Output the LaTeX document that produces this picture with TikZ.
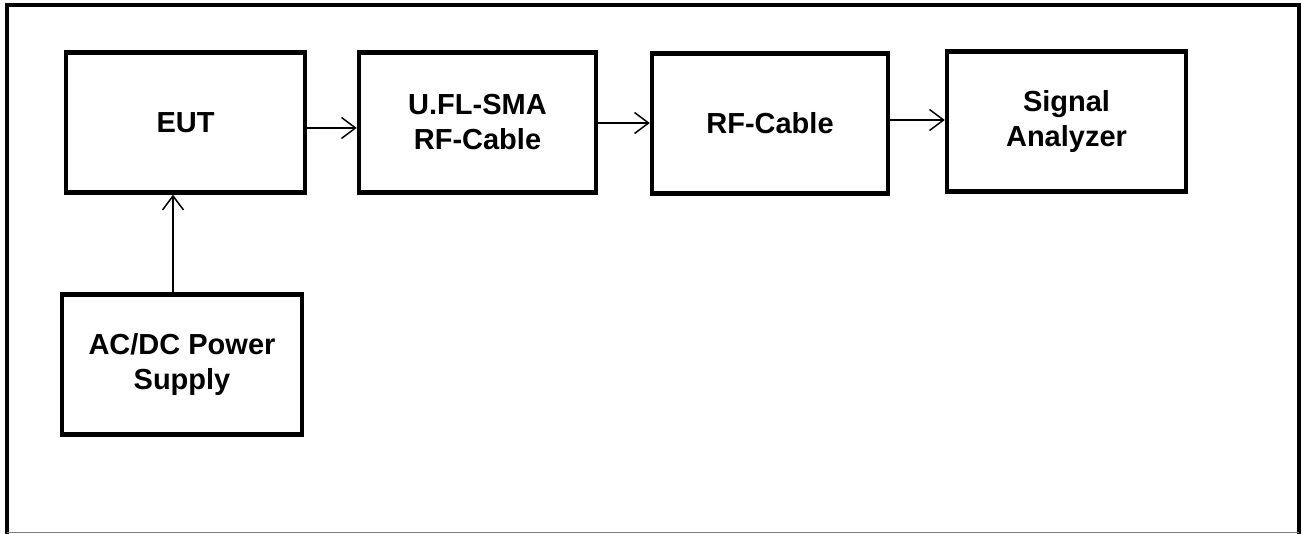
\documentclass[tikz,border=0pt]{standalone}
\usepackage{fontspec}
\setmainfont{Liberation Sans}
\usetikzlibrary{arrows.meta}
\begin{document}
\begin{tikzpicture}[x=1pt,y=-1pt,
  blk/.style={draw=black,line width=4.5pt,rectangle,minimum width=#1,minimum height=140pt,inner sep=0pt,align=center,font=\fontsize{29}{35}\selectfont\bfseries},
  blk/.default=240pt,
  conn/.style={line width=1.5pt,-{Straight Barb[length=14pt,width=21pt,line width=1.5pt]}}]
\useasboundingbox[fill=white] (0,0) rectangle (1302,534);
\draw[line width=4.5pt] (7,534) -- (7,5) -- (1299,5) -- (1299,534);
\draw[line width=1pt,gray] (7,532.5) -- (1299,532.5);
\node[blk=239pt] (eut) at (185.5,122.5) {EUT};
\node[blk=237pt] (ufl) at (477.5,122.5) {U.FL-SMA\\RF-Cable};
\node[blk=236pt] (rf) at (770,123.5) {RF-Cable};
\node[blk=239pt] (sa) at (1066.5,121.5) {Signal\\Analyzer};
\node[blk=240pt] (ps) at (182,364.5) {AC/DC Power\\Supply};
\draw[conn] (eut.east |- 0,128) -- (ufl.west |- 0,128);
\draw[conn] (ufl.east |- 0,123) -- (rf.west |- 0,123);
\draw[conn] (rf.east |- 0,120) -- (sa.west |- 0,120);
\draw[conn] (ps.north -| 173,0) -- (eut.south -| 173,0);
\end{tikzpicture}
\end{document}
